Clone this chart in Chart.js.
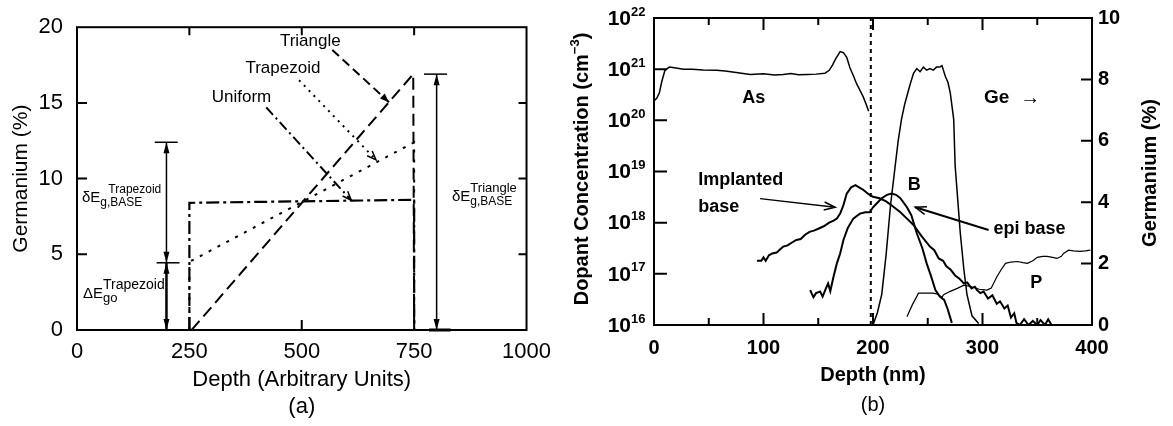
<!DOCTYPE html>
<html>
<head>
<meta charset="utf-8">
<script src="https://cdn.jsdelivr.net/npm/chart.js@4.4.0/dist/chart.umd.min.js"></script>
<style>
  html, body { margin: 0; padding: 0; background: #fff; overflow: hidden; }
  #wrap { position: relative; width: 1173px; height: 426px; }
  #chartA { position: absolute; left: 0; top: 0; }
  #chartB { position: absolute; left: 560px; top: 0; }
</style>
</head>
<body>
<div id="wrap">
  <canvas id="chartA" width="560" height="426" style="width:560px;height:426px"></canvas>
  <canvas id="chartB" width="613" height="426" style="width:613px;height:426px"></canvas>
</div>
<script>
const FONT = '"Liberation Sans", Arial, Helvetica, sans-serif';

// ---- panel (a): Ge profiles, depth in arbitrary units ----
const uniformDepth = [250, 250, 750, 750];
const uniformGe = [0, 8.4, 8.6, 0];
const trapezoidDepth = [250, 250, 750, 750];
const trapezoidGe = [0, 4.5, 12.4, 0];
const triangleDepth = [255, 748, 750];
const triangleGe = [0, 16.9, 0];
const depthTicksA = [0, 250, 500, 750, 1000];
const geTicksA = [0, 5, 10, 15, 20];

// ---- panel (b): SIMS profiles, depth in nm ----
const asDepth = [0, 2.5, 5, 7, 10, 14, 20, 27, 35, 45, 57, 65, 75, 88, 100, 110, 118, 125, 132, 140, 148, 156, 160, 163, 166, 170, 173, 176, 179, 182, 185, 188, 191, 194, 196];
const asConc = [2.4e20, 2.7e20, 3.5e20, 5.6e20, 9.5e20, 1.1e21, 1.05e21, 1.0e21, 1.0e21, 9.6e20, 9.5e20, 9.2e20, 8.6e20, 7.9e20, 8.1e20, 7.7e20, 7.9e20, 8.2e20, 7.8e20, 7.9e20, 8.0e20, 8.3e20, 9.5e20, 1.2e21, 1.6e21, 2.2e21, 2.1e21, 1.7e21, 1.05e21, 7.5e20, 5.2e20, 3.9e20, 2.9e20, 2.0e20, 1.5e20];

const implDepth = [94, 98, 100, 102, 105, 108, 112, 115, 118, 122, 126, 130, 134, 138, 142, 146, 150, 155, 160, 164, 167, 170, 173, 176, 180, 184, 188, 191, 196, 200, 206, 212, 218, 225, 231, 237, 244, 252, 256, 260, 264, 267, 271, 275, 279, 283, 286, 290, 293, 295, 298, 301, 305, 309, 313, 316, 320, 323, 326, 329, 331, 334, 338, 342, 346, 350, 353, 357, 360, 363];
const implConc = [1.8e17, 1.8e17, 2.1e17, 1.8e17, 2.3e17, 2.5e17, 2.6e17, 3.0e17, 3.4e17, 3.6e17, 4.1e17, 4.6e17, 4.8e17, 5.8e17, 6.6e17, 7.0e17, 7.6e17, 8.5e17, 1.0e18, 1.1e18, 1.2e18, 1.5e18, 2.2e18, 3.7e18, 4.9e18, 5.4e18, 4.8e18, 4.4e18, 3.6e18, 3.2e18, 3.0e18, 2.6e18, 2.1e18, 1.6e18, 1.2e18, 9.0e17, 5.6e17, 3.4e17, 2.9e17, 2.0e17, 1.8e17, 1.4e17, 1.2e17, 9.3e16, 8.0e16, 6.5e16, 6.8e16, 5.2e16, 5.6e16, 4.8e16, 4.2e16, 4.5e16, 3.3e16, 3.8e16, 2.6e16, 2.9e16, 2.1e16, 2.4e16, 1.4e16, 1.7e16, 1.1e16, 1.0e16, 1.3e16, 1.0e16, 1.2e16, 1.0e16, 1.25e16, 1.0e16, 1.3e16, 1.0e16];

const epiDepth = [142.6, 145.6, 148, 151.7, 154, 157, 159, 161, 164, 167, 170, 173, 177, 182, 188, 193, 197, 200, 203.5, 208, 212.7, 217, 221, 225, 231, 235, 240, 245, 249, 253, 257, 261, 265, 268, 272];
const epiConc = [4.8e16, 3.5e16, 4.2e16, 4.5e16, 3.6e16, 5.2e16, 6.5e16, 4.6e16, 8.9e16, 1.6e17, 2.5e17, 4.6e17, 7.9e17, 1.2e18, 1.5e18, 1.6e18, 1.6e18, 2.0e18, 2.4e18, 3.0e18, 3.5e18, 3.7e18, 3.5e18, 3.0e18, 2.0e18, 1.4e18, 6.2e17, 3.2e17, 1.6e17, 9.0e16, 4.8e16, 3.6e16, 3.1e16, 2.1e16, 1.1e16];

const pDepth = [231, 236, 241.6, 248, 255, 259, 263, 264.5, 270, 277, 283, 290, 297, 304, 308, 313, 317, 321, 326, 332, 337, 341, 346, 350, 355, 359, 364, 368, 372, 374, 378.6, 383, 389, 394, 398.5];
const pConc = [1.45e16, 2.5e16, 4.2e16, 4.2e16, 4.2e16, 4.0e16, 3.5e16, 3.9e16, 4.5e16, 5.2e16, 6.0e16, 5.6e16, 5.0e16, 4.8e16, 5.3e16, 8.7e16, 1.2e17, 1.6e17, 1.7e17, 1.74e17, 1.65e17, 1.6e17, 1.8e17, 2.1e17, 2.2e17, 2.2e17, 2.1e17, 2.0e17, 2.2e17, 2.5e17, 2.9e17, 2.8e17, 2.75e17, 2.8e17, 2.9e17];

const geDepth = [200, 204, 208, 212, 216, 220, 223, 226, 229, 234, 237, 240, 243, 246, 249, 252, 255, 258, 261, 263, 266, 268.5, 270.6, 273.7, 275, 279.7, 283, 285.8, 290.4, 296.5];
const geValue = [0, 0.4, 1.0, 2.3, 3.9, 5.1, 6.0, 6.7, 7.2, 7.85, 8.2, 8.35, 8.25, 8.4, 8.3, 8.35, 8.3, 8.4, 8.4, 8.45, 8.1, 7.9, 7.55, 6.7, 5.2, 3.0, 1.8, 1.0, 0.3, 0.05];

const junctionDepth = [198, 198];
const junctionConc = [1e16, 1e22];

const depthTicksB = [0, 100, 200, 300, 400];
const depthMinorB = [50, 150, 250, 350];
const logTickExps = [16, 17, 18, 19, 20, 21, 22];
const geTicksB = [0, 2, 4, 6, 8, 10];

function pairs(xs, ys) { return xs.map((x, i) => ({ x: x, y: ys[i] })); }

function lineStyle(width, dash) {
  return { borderColor: '#000', borderWidth: width, borderDash: dash || [], pointRadius: 0,
           showLine: true, fill: false, tension: 0 };
}

function seg(ctx, x0, y0, x1, y1, w, dash) {
  ctx.save();
  ctx.lineWidth = w;
  ctx.setLineDash(dash || []);
  ctx.beginPath(); ctx.moveTo(x0, y0); ctx.lineTo(x1, y1); ctx.stroke();
  ctx.restore();
}

// arrow head with tip at (x1,y1) coming from (x0,y0)
function head(ctx, x0, y0, x1, y1, len, half, open) {
  const a = Math.atan2(y1 - y0, x1 - x0);
  const bx = x1 - len * Math.cos(a), by = y1 - len * Math.sin(a);
  const px = half * Math.sin(a), py = -half * Math.cos(a);
  ctx.save();
  ctx.setLineDash([]);
  ctx.beginPath();
  if (open) {
    ctx.lineWidth = 1.5;
    ctx.moveTo(bx + px, by + py); ctx.lineTo(x1, y1); ctx.lineTo(bx - px, by - py);
    ctx.stroke();
  } else {
    ctx.moveTo(x1, y1); ctx.lineTo(bx + px, by + py); ctx.lineTo(bx - px, by - py);
    ctx.closePath(); ctx.fill();
  }
  ctx.restore();
}

function eqText(ctx, x, y, main, sub, sup, mainSize, subSize, supSize, supShift) {
  ctx.textAlign = 'left'; ctx.textBaseline = 'alphabetic';
  ctx.font = mainSize + 'px ' + FONT;
  ctx.fillText(main, x, y);
  const w = ctx.measureText(main).width;
  ctx.font = supSize + 'px ' + FONT;
  ctx.fillText(sup, x + w + (supShift || 0), y - 9);
  ctx.font = subSize + 'px ' + FONT;
  ctx.fillText(sub, x + w, y + 4);
}

function vText(ctx, cx, cy, parts) {
  ctx.save();
  ctx.translate(cx, cy);
  ctx.rotate(-Math.PI / 2);
  let total = 0;
  parts.forEach(p => { ctx.font = p.font; p.w = ctx.measureText(p.t).width; total += p.w; });
  let xx = -total / 2;
  ctx.textAlign = 'left'; ctx.textBaseline = 'middle';
  parts.forEach(p => { ctx.font = p.font; ctx.fillText(p.t, xx, p.dy || 0); xx += p.w; });
  ctx.restore();
}

// ---------- panel (a) overlay ----------
const panelA = {
  id: 'panelA',
  afterDatasetsDraw(chart) {
    const { ctx, chartArea: a } = chart;
    const X = v => chart.scales.x.getPixelForValue(v);
    const Y = v => chart.scales.y.getPixelForValue(v);
    ctx.save();
    ctx.strokeStyle = '#000'; ctx.fillStyle = '#000';
    ctx.lineWidth = 2;
    ctx.strokeRect(a.left, a.top, a.right - a.left, a.bottom - a.top);
    ctx.beginPath();
    depthTicksA.slice(1, -1).forEach(v => {
      ctx.moveTo(X(v), a.bottom); ctx.lineTo(X(v), a.bottom - 10);
      ctx.moveTo(X(v), a.top); ctx.lineTo(X(v), a.top + 8);
    });
    geTicksA.slice(1, -1).forEach(v => {
      ctx.moveTo(a.left, Y(v)); ctx.lineTo(a.left + 10, Y(v));
      ctx.moveTo(a.right, Y(v)); ctx.lineTo(a.right - 8, Y(v));
    });
    ctx.stroke();

    // trapezoid bracket
    const bx = X(199);
    seg(ctx, bx, Y(12.4), bx, Y(4.44), 1.5);
    seg(ctx, bx, Y(4.44), bx, Y(0), 2.5);
    head(ctx, bx, Y(9), bx, Y(12.4), 11, 3);
    head(ctx, bx, Y(8), bx, Y(4.44), 11, 3);
    head(ctx, bx, Y(1), bx, Y(4.44), 11, 3);
    head(ctx, bx, Y(3), bx, Y(0), 11, 3);
    seg(ctx, X(173), Y(12.4), X(224), Y(12.4), 1.5);
    seg(ctx, X(177), Y(4.44), X(228), Y(4.44), 1.5);

    // triangle bracket
    const rx = X(800);
    seg(ctx, rx, Y(16.9), rx, Y(0), 1.5);
    head(ctx, rx, Y(12), rx, Y(16.9), 11, 3);
    head(ctx, rx, Y(4), rx, Y(0), 11, 3);
    seg(ctx, X(772), Y(16.9), X(823), Y(16.9), 1.5);
    seg(ctx, X(783), Y(0), X(831), Y(0), 3);

    ctx.fillStyle = '#000';
    eqText(ctx, 82, 202, 'δE', 'g,BASE', 'Trapezoid', 15, 12, 12, 8);
    eqText(ctx, 83, 298, 'ΔE', 'go', 'Trapezoid', 15, 13, 14, 0);
    eqText(ctx, 452, 201, 'δE', 'g,BASE', 'Triangle', 15, 12, 13, 0);

    // profile labels and leaders
    ctx.font = '17px ' + FONT;
    ctx.textAlign = 'center'; ctx.textBaseline = 'middle';
    ctx.fillText('Triangle', X(519), Y(19.05));
    ctx.fillText('Trapezoid', X(458), Y(17.27));
    ctx.fillText('Uniform', X(366), Y(15.37));

    seg(ctx, X(568), Y(18.5), X(694), Y(15.05), 2, [9, 5]);
    head(ctx, X(568), Y(18.5), X(694), Y(15.05), 9, 3.5);
    seg(ctx, X(494), Y(16.5), X(665), Y(11.24), 2, [2, 5]);
    head(ctx, X(494), Y(16.5), X(665), Y(11.24), 9, 3.5, true);
    seg(ctx, X(421), Y(14.7), X(610), Y(8.57), 2, [10, 4, 2, 4]);
    head(ctx, X(421), Y(14.7), X(610), Y(8.57), 9, 3.5, true);
    ctx.restore();
  }
};

new Chart(document.getElementById('chartA'), {
  type: 'scatter',
  data: {
    datasets: [
      Object.assign({ label: 'Uniform', data: pairs(uniformDepth, uniformGe) }, lineStyle(2.2, [13, 4, 3, 4])),
      Object.assign({ label: 'Trapezoid', data: pairs(trapezoidDepth, trapezoidGe) }, lineStyle(2, [3, 7])),
      Object.assign({ label: 'Triangle', data: pairs(triangleDepth, triangleGe) }, lineStyle(2, [12, 6]))
    ]
  },
  options: {
    responsive: false,
    animation: false,
    layout: { padding: { top: 15, right: 32, bottom: 0, left: 0 } },
    plugins: { legend: { display: false }, tooltip: { enabled: false } },
    scales: {
      x: {
        type: 'linear', min: 0, max: 1000,
        afterFit: s => { s.height = 96; },
        afterBuildTicks: s => { s.ticks = depthTicksA.map(v => ({ value: v })); },
        ticks: { autoSkip: false, maxRotation: 0, padding: 9, color: '#000',
                 font: { family: FONT, size: 22 }, callback: v => String(v) },
        grid: { display: false, drawTicks: false },
        border: { display: false },
        title: { display: true, text: ['Depth (Arbitrary Units)', '(a)'], color: '#000',
                 font: { family: FONT, size: 22 }, padding: { top: 0, bottom: 6 } }
      },
      y: {
        type: 'linear', min: 0, max: 20,
        afterFit: s => { s.width = 77; },
        afterBuildTicks: s => { s.ticks = geTicksA.map(v => ({ value: v })); },
        ticks: { padding: 14, color: '#000', font: { family: FONT, size: 22 }, callback: v => String(v) },
        grid: { display: false, drawTicks: false },
        border: { display: false },
        title: { display: true, text: 'Germanium (%)', color: '#000',
                 font: { family: FONT, size: 21 }, padding: { top: 9, bottom: 0 } }
      }
    }
  },
  plugins: [panelA]
});

// ---------- panel (b) overlay ----------
const panelB = {
  id: 'panelB',
  afterDatasetsDraw(chart) {
    const { ctx, chartArea: a } = chart;
    const X = v => chart.scales.x.getPixelForValue(v);
    const Y = v => chart.scales.y.getPixelForValue(v);
    const G = v => chart.scales.y1.getPixelForValue(v);
    ctx.save();
    ctx.strokeStyle = '#000'; ctx.fillStyle = '#000';
    ctx.lineWidth = 2;
    ctx.strokeRect(a.left, a.top, a.right - a.left, a.bottom - a.top);
    ctx.beginPath();
    depthTicksB.slice(1, -1).forEach(v => {
      ctx.moveTo(X(v), a.bottom); ctx.lineTo(X(v), a.bottom - 12);
      ctx.moveTo(X(v), a.top); ctx.lineTo(X(v), a.top + 12);
    });
    depthMinorB.forEach(v => {
      ctx.moveTo(X(v), a.bottom); ctx.lineTo(X(v), a.bottom - 7);
      ctx.moveTo(X(v), a.top); ctx.lineTo(X(v), a.top + 7);
    });
    logTickExps.slice(1, -1).forEach(e => {
      const py = Y(Math.pow(10, e));
      ctx.moveTo(a.left, py); ctx.lineTo(a.left + 13, py);
    });
    geTicksB.slice(1, -1).forEach(v => {
      ctx.moveTo(a.right, G(v)); ctx.lineTo(a.right - 11, G(v));
    });
    ctx.stroke();

    // log tick labels 10^n
    logTickExps.forEach(e => {
      const py = Y(Math.pow(10, e));
      const lx = a.left - 23;
      ctx.textBaseline = 'middle';
      ctx.textAlign = 'right';
      ctx.font = 'bold 21px ' + FONT;
      ctx.fillText('10', lx, py + 1);
      ctx.textAlign = 'left';
      ctx.font = 'bold 13px ' + FONT;
      ctx.fillText(String(e), lx, py - 6);
    });

    // axis titles
    vText(ctx, 22, 169, [
      { t: 'Dopant Concentration (cm', font: 'bold 20px ' + FONT },
      { t: '−3', font: 'bold 13px ' + FONT, dy: -7 },
      { t: ')', font: 'bold 20px ' + FONT }
    ]);
    vText(ctx, 590, 173, [{ t: 'Germanium (%)', font: 'bold 20px ' + FONT }]);
    ctx.textAlign = 'center'; ctx.textBaseline = 'middle';
    ctx.font = 'bold 20px ' + FONT;
    ctx.fillText('Depth (nm)', (a.left + a.right) / 2, 375);
    ctx.font = '20px ' + FONT;
    ctx.fillText('(b)', (a.left + a.right) / 2, 405);

    // curve labels
    ctx.font = 'bold 18px ' + FONT;
    ctx.fillText('As', X(91), Y(2.7e20));
    ctx.fillText('B', X(237.7), Y(5.4e18));
    ctx.fillText('P', X(349), Y(6.5e16));
    ctx.font = 'bold 19px ' + FONT;
    ctx.fillText('Ge', X(313), Y(2.7e20));
    ctx.font = '20px ' + FONT;
    ctx.fillText('→', X(343.7), Y(2.7e20));
    ctx.textAlign = 'left';
    ctx.font = 'bold 18px ' + FONT;
    ctx.fillText('Implanted', X(40.5), Y(6.8e18));
    ctx.fillText('base', X(40.5), Y(2.0e18));
    ctx.fillText('epi base', X(310), Y(7.4e17));

    seg(ctx, X(96.9), Y(2.95e18), X(165.4), Y(2.0e18), 1.5);
    head(ctx, X(96.9), Y(2.95e18), X(165.4), Y(2.0e18), 11, 4, true);
    seg(ctx, X(305.6), Y(7.2e17), X(238.6), Y(2.0e18), 2);
    head(ctx, X(305.6), Y(7.2e17), X(238.6), Y(2.0e18), 11, 4, true);
    ctx.restore();
  }
};

new Chart(document.getElementById('chartB'), {
  type: 'scatter',
  data: {
    datasets: [
      Object.assign({ label: 'As', data: pairs(asDepth, asConc), yAxisID: 'y' }, lineStyle(1.5)),
      Object.assign({ label: 'Implanted base', data: pairs(implDepth, implConc), yAxisID: 'y' }, lineStyle(2)),
      Object.assign({ label: 'epi base', data: pairs(epiDepth, epiConc), yAxisID: 'y' }, lineStyle(2)),
      Object.assign({ label: 'P', data: pairs(pDepth, pConc), yAxisID: 'y' }, lineStyle(1.2)),
      Object.assign({ label: 'Ge', data: pairs(geDepth, geValue), yAxisID: 'y1' }, lineStyle(1.5)),
      Object.assign({ label: 'Junction', data: pairs(junctionDepth, junctionConc), yAxisID: 'y' }, lineStyle(2, [4, 4]))
    ]
  },
  options: {
    responsive: false,
    animation: false,
    layout: { padding: { top: 18, right: 0, bottom: 0, left: 0 } },
    plugins: { legend: { display: false }, tooltip: { enabled: false } },
    scales: {
      x: {
        type: 'linear', min: 0, max: 400,
        afterFit: s => { s.height = 101; },
        afterBuildTicks: s => { s.ticks = depthTicksB.map(v => ({ value: v })); },
        ticks: { autoSkip: false, maxRotation: 0, padding: 11, color: '#000',
                 font: { family: FONT, size: 20, weight: 'bold' }, callback: v => String(v) },
        grid: { display: false, drawTicks: false },
        border: { display: false }
      },
      y: {
        type: 'logarithmic', position: 'left', min: 1e16, max: 1e22,
        afterFit: s => { s.width = 94; },
        ticks: { display: false },
        grid: { display: false, drawTicks: false },
        border: { display: false }
      },
      y1: {
        type: 'linear', position: 'right', min: 0, max: 10,
        afterFit: s => { s.width = 81; },
        afterBuildTicks: s => { s.ticks = geTicksB.map(v => ({ value: v })); },
        ticks: { padding: 6, color: '#000', font: { family: FONT, size: 20, weight: 'bold' },
                 callback: v => String(v) },
        grid: { display: false, drawTicks: false },
        border: { display: false }
      }
    }
  },
  plugins: [panelB]
});
</script>
</body>
</html>
